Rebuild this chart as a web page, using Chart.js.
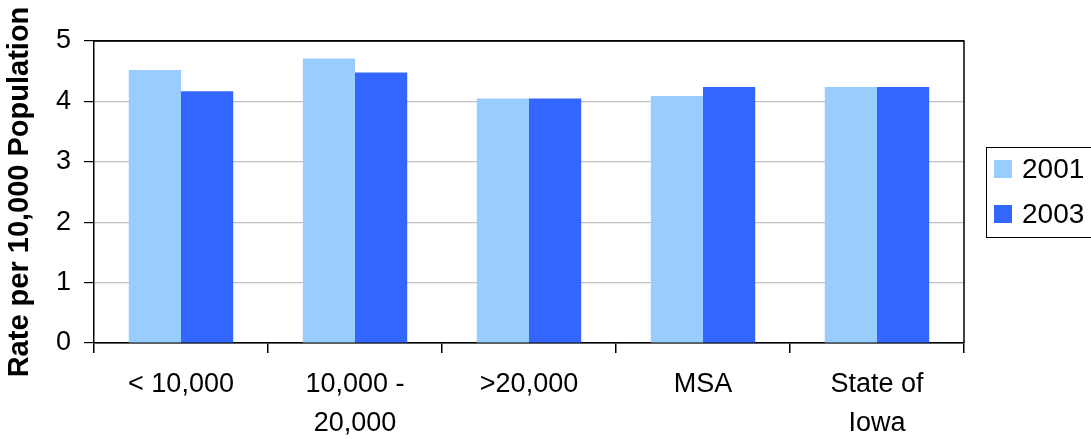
<!DOCTYPE html>
<html>
<head>
<meta charset="utf-8">
<script src="https://cdn.jsdelivr.net/npm/chart.js@4"></script>
<style>
  body { margin: 0; background: #fff; }
  #wrap { width: 1091px; height: 439px; }
</style>
</head>
<body>
<div id="wrap"><canvas id="rateChart" width="1091" height="439"></canvas></div>
<script>
const categories = [["< 10,000"], ["10,000 -", "20,000"], [">20,000"], ["MSA"], ["State of", "Iowa"]];
const years = ["2001", "2003"];
const rate2001 = [4.52, 4.71, 4.05, 4.09, 4.24];
const rate2003 = [4.17, 4.48, 4.05, 4.24, 4.24];
const yTicks = [0, 1, 2, 3, 4, 5];

const FONT = "Arial, 'Liberation Sans', sans-serif";

// plot frame on the right + legend box
const framePlugin = {
  id: 'frame',
  afterDraw(chart) {
    const c = chart.ctx;
    const a = chart.chartArea;
    c.save();
    c.strokeStyle = '#000';
    c.lineWidth = 1.5;
    c.beginPath();
    c.moveTo(a.left, a.top);
    c.lineTo(a.right, a.top);
    c.lineTo(a.right, a.bottom);
    c.stroke();

    // legend
    const lx = 986, ly = 147, lh = 90;
    c.lineWidth = 1;
    c.strokeRect(lx + 0.5, ly + 0.5, 200, lh);
    c.font = "28px " + FONT;
    c.textBaseline = 'middle';
    c.textAlign = 'left';
    chart.data.datasets.forEach((ds, i) => {
      const y = ly + 22 + i * 45;
      c.fillStyle = ds.backgroundColor;
      c.fillRect(lx + 8, y - 9, 18, 18);
      c.fillStyle = '#000';
      c.fillText(ds.label, lx + 36, y + 1);
    });
    c.restore();
  }
};

new Chart(document.getElementById('rateChart'), {
  type: 'bar',
  data: {
    labels: categories,
    datasets: [
      { label: years[0], data: rate2001, backgroundColor: '#99CCFF', categoryPercentage: 0.6, barPercentage: 1.0 },
      { label: years[1], data: rate2003, backgroundColor: '#3366FF', categoryPercentage: 0.6, barPercentage: 1.0 }
    ]
  },
  options: {
    responsive: false,
    animation: false,
    layout: { padding: { top: 41, right: 127, left: 0, bottom: 0 } },
    plugins: {
      legend: { display: false },
      tooltip: { enabled: false }
    },
    scales: {
      x: {
        afterFit: s => { s.height = 96; },
        grid: { offset: true, drawOnChartArea: false, drawTicks: true, tickLength: 10, tickColor: '#000', lineWidth: 1.5 },
        border: { color: '#000', width: 1.5 },
        ticks: { color: '#000', font: { family: FONT, size: 27, lineHeight: 1.45 }, padding: 12, maxRotation: 0, autoSkip: false }
      },
      y: {
        min: 0,
        max: 5,
        afterFit: s => { s.width = 94; },
        afterBuildTicks: s => { s.ticks = yTicks.map(v => ({ value: v })); },
        grid: {
          color: ctx => (ctx.tick && (ctx.tick.value === 0 || ctx.tick.value === 5)) ? '#000' : '#c0c0c0',
          tickColor: '#000',
          tickLength: 10,
          lineWidth: 1.2
        },
        border: { color: '#000', width: 1.5 },
        ticks: { color: '#000', font: { family: FONT, size: 27 }, padding: 13 },
        title: {
          display: true,
          text: 'Rate per 10,000 Population',
          color: '#000',
          font: { family: FONT, size: 29, weight: 'bold' },
          padding: { top: 3, bottom: 0 }
        }
      }
    }
  },
  plugins: [framePlugin]
});
</script>
</body>
</html>
